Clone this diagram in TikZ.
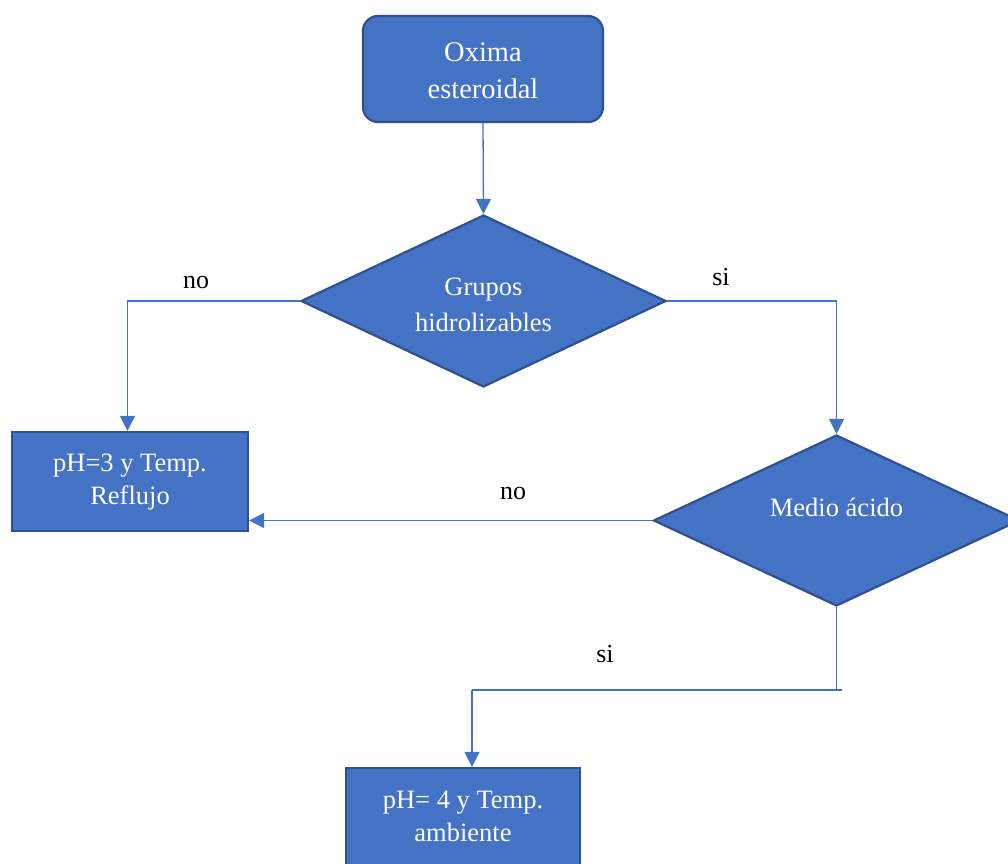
\documentclass[tikz,border=0pt]{standalone}
\usepackage{fontspec}
\setmainfont{Liberation Serif}
\usetikzlibrary{shapes.geometric,arrows.meta}
\definecolor{boxfill}{HTML}{4472C4}
\definecolor{boxline}{HTML}{2F528F}
\definecolor{flow}{HTML}{4472C4}
\tikzset{
  shapebase/.style={fill=boxfill, draw=boxline, line width=2.2pt, text=white,
    align=center, inner sep=0pt, font=\fontsize{26.5}{34}\selectfont},
  startbox/.style={shapebase, rectangle, rounded corners=15pt,
    minimum width=240pt, minimum height=106pt, font=\fontsize{28.5}{38}\selectfont},
  procbox/.style={shapebase, rectangle, rounded corners=0pt},
  decision/.style={shapebase, diamond, shape aspect=2.12},
  flowline/.style={draw=flow, line width=1.3pt},
  flowarrow/.style={flowline, -{Triangle[width=15pt,length=15pt]}},
  branchlabel/.style={text=black, font=\fontsize{26}{30}\selectfont, inner sep=0pt}
}
\begin{document}
\begin{tikzpicture}[x=1pt,y=-1pt]
\useasboundingbox (0,0) rectangle (1008,863);

% shapes
\node[startbox, label={[text=white, font=\fontsize{28.5}{38}\selectfont, align=center, yshift=-2pt]center:Oxima\\[-1pt]esteroidal}]
  (start) at (483,69) {};
\node[decision, minimum width=365pt, minimum height=172pt,
  label={[text=white, font=\fontsize{26.5}{34}\selectfont, align=center, yshift=-4pt]center:Grupos\\[2pt]hidrolizables}]
  (grupos) at (483.5,301) {};
\node[procbox, minimum width=236pt, minimum height=99pt] (reflujo) at (130,481.5)
  {\raisebox{4pt}{\begin{tabular}{@{}c@{}}pH=3 y Temp.\\[-1pt]Reflujo\end{tabular}}};
\node[decision, minimum width=366pt, minimum height=171pt,
  label={[text=white, font=\fontsize{26.5}{34}\selectfont, yshift=13pt]center:Medio ácido}]
  (medio) at (836.5,520.5) {};
\node[procbox, minimum width=234pt, minimum height=100pt] (ambiente) at (463,818)
  {\raisebox{2pt}{\begin{tabular}{@{}c@{}}pH= 4 y Temp.\\[-1pt]ambiente\end{tabular}}};

% bend points
\coordinate (noCorner) at (127.5,301);
\coordinate (siCorner) at (836.5,301);
\coordinate (dropEnd) at (836.5,690);
\coordinate (dropTail) at (842,690);
\coordinate (joinCorner) at (472,690);

% connectors
\draw[flowarrow] (start.south) -- (grupos.north);
\draw[flowarrow] (grupos.west) -- (noCorner) -- (noCorner |- reflujo.north);
\draw[flowarrow] (grupos.east) -- (siCorner) -- (medio.north);
\draw[flowarrow] (medio.west) -- (reflujo.east |- medio.west);
\draw[flowline] (medio.south) -- (dropEnd);
\draw[flowline] (dropTail) -- (joinCorner);
\draw[flowarrow] (joinCorner) -- (joinCorner |- ambiente.north);

% branch labels
\node[branchlabel] (lblNo1) at (196,282) {no};
\node[branchlabel] (lblSi1) at (721,277) {si};
\node[branchlabel] (lblNo2) at (513,493) {no};
\node[branchlabel] (lblSi2) at (605,654) {si};
\end{tikzpicture}
\end{document}
